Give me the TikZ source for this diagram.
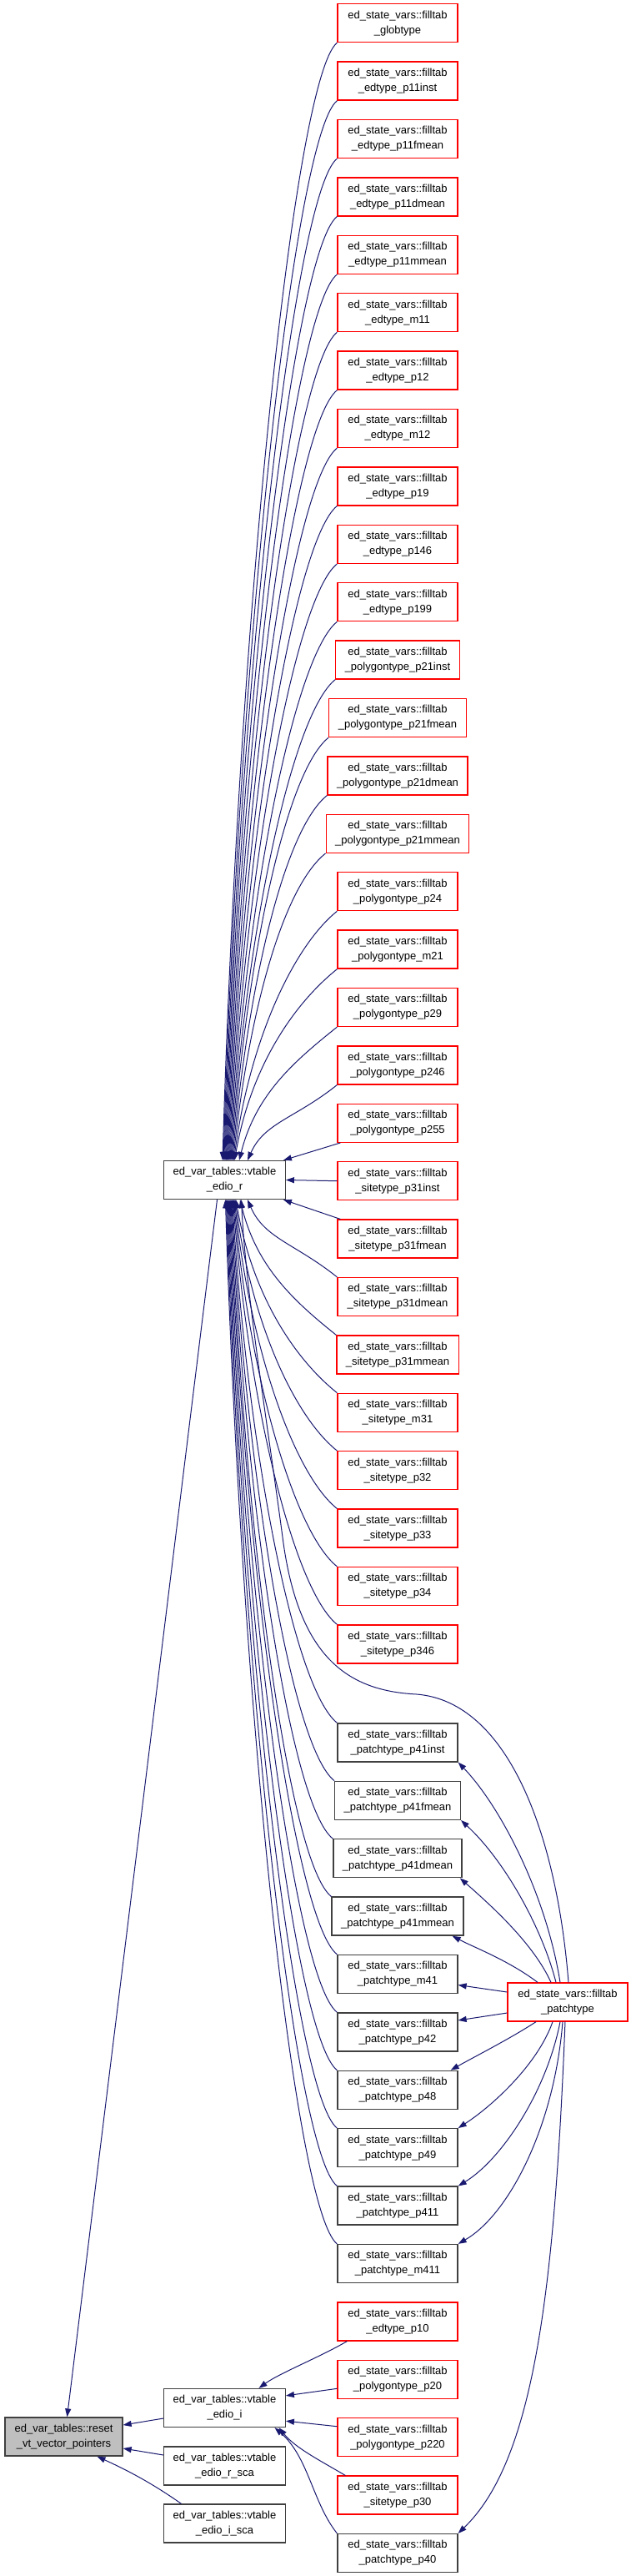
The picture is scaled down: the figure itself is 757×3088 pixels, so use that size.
\documentclass[tikz,border=0pt]{standalone}
\usepackage{fontspec}
\setmainfont{Liberation Sans}
\usetikzlibrary{arrows.meta}
\definecolor{edgeblue}{RGB}{25,25,112}
\definecolor{boxred}{RGB}{255,0,0}
\definecolor{boxgray}{RGB}{64,64,64}
\definecolor{resetfill}{RGB}{191,191,191}
\begin{document}
\begin{tikzpicture}[x=1pt,y=-1pt,
  box/.style={draw, line width=1.3pt, fill=white, minimum width=144pt, minimum height=46pt,
    inner xsep=11pt, inner ysep=3pt, align=center, font=\fontsize{13}{18}\selectfont},
  redbox/.style={box, draw=boxred},
  blkbox/.style={box, draw=boxgray},
  edge/.style={draw=edgeblue, line width=1pt, -{Triangle[length=10pt,width=7pt]}}]
\useasboundingbox (0,0) rectangle (757,3088);
% left column
\node[blkbox, fill=resetfill, minimum width=141pt] (reset) at (76.5,2921) {ed\_var\_tables::reset\\\_vt\_vector\_pointers};
\node[blkbox] (edior) at (269.5,1414.5) {ed\_var\_tables::vtable\\\_edio\_r};
\node[blkbox] (ei) at (269.5,2886.5) {ed\_var\_tables::vtable\\\_edio\_i};
\node[blkbox] (ers) at (269.5,2956) {ed\_var\_tables::vtable\\\_edio\_r\_sca};
\node[blkbox] (eis) at (269.5,3025) {ed\_var\_tables::vtable\\\_edio\_i\_sca};
\node[redbox] (pt) at (681,2400) {ed\_state\_vars::filltab\\\_patchtype};
% right column
\foreach \i/\lab/\sty in {
 0/{\_globtype}/redbox,
 1/{\_edtype\_p11inst}/redbox,
 2/{\_edtype\_p11fmean}/redbox,
 3/{\_edtype\_p11dmean}/redbox,
 4/{\_edtype\_p11mmean}/redbox,
 5/{\_edtype\_m11}/redbox,
 6/{\_edtype\_p12}/redbox,
 7/{\_edtype\_m12}/redbox,
 8/{\_edtype\_p19}/redbox,
 9/{\_edtype\_p146}/redbox,
 10/{\_edtype\_p199}/redbox,
 11/{\_polygontype\_p21inst}/redbox,
 12/{\_polygontype\_p21fmean}/redbox,
 13/{\_polygontype\_p21dmean}/redbox,
 14/{\_polygontype\_p21mmean}/redbox,
 15/{\_polygontype\_p24}/redbox,
 16/{\_polygontype\_m21}/redbox,
 17/{\_polygontype\_p29}/redbox,
 18/{\_polygontype\_p246}/redbox,
 19/{\_polygontype\_p255}/redbox,
 20/{\_sitetype\_p31inst}/redbox,
 21/{\_sitetype\_p31fmean}/redbox,
 22/{\_sitetype\_p31dmean}/redbox,
 23/{\_sitetype\_p31mmean}/redbox,
 24/{\_sitetype\_m31}/redbox,
 25/{\_sitetype\_p32}/redbox,
 26/{\_sitetype\_p33}/redbox,
 27/{\_sitetype\_p34}/redbox,
 28/{\_sitetype\_p346}/redbox,
 29/{\_patchtype\_p41inst}/blkbox,
 30/{\_patchtype\_p41fmean}/blkbox,
 31/{\_patchtype\_p41dmean}/blkbox,
 32/{\_patchtype\_p41mmean}/blkbox,
 33/{\_patchtype\_m41}/blkbox,
 34/{\_patchtype\_p42}/blkbox,
 35/{\_patchtype\_p48}/blkbox,
 36/{\_patchtype\_p49}/blkbox,
 37/{\_patchtype\_p411}/blkbox,
 38/{\_patchtype\_m411}/blkbox,
 39/{\_edtype\_p10}/redbox,
 40/{\_polygontype\_p20}/redbox,
 41/{\_polygontype\_p220}/redbox,
 42/{\_sitetype\_p30}/redbox,
 43/{\_patchtype\_p40}/blkbox}{
  \pgfmathsetmacro\yc{4.7+69.4*\i+23+(\i>28)*48.6}
  \node[\sty] (n\i) at (477,\yc) {ed\_state\_vars::filltab\\\lab};
}
% edges into edio_r from above
\foreach \i in {0,...,18}{
  \pgfmathsetmacro\sy{4.7+69.4*\i+46}
  \pgfmathsetmacro\xe{\i<17 ? 267+0.9*\i : (\i==17 ? 287 : 297)}
  \pgfmathsetmacro\dx{\xe-269.5}
  \pgfmathsetmacro\ym{(\sy+1391.5)/2}
  \draw[edge] (n\i.south west) .. controls +(-50,40) and (\xe+20,\ym) .. ([xshift=\dx pt]edior.north);
}
\draw[edge] ([xshift=4pt]n19.south west) -- ([xshift=-3pt]edior.north east);
\draw[edge] (n20.west) -- (edior.east);
\draw[edge] ([xshift=4pt]n21.north west) -- ([xshift=-3pt]edior.south east);
% edges into edio_r from below
\foreach \i in {22,...,38}{
  \pgfmathsetmacro\sy{4.7+69.4*\i+(\i>28)*48.6}
  \pgfmathsetmacro\xe{\i==22 ? 297 : (\i==23 ? 288 : 283-0.9*(\i-24))}
  \pgfmathsetmacro\dx{\xe-269.5}
  \pgfmathsetmacro\ym{(\sy+1437.5)/2}
  \draw[edge] (n\i.north west) .. controls +(-50,-40) and (\xe+20,\ym) .. ([xshift=\dx pt]edior.south);
}
% patchtype -> edio_r
\draw[edge] ([xshift=1pt]pt.north) .. controls (668,2200) and (610,2040) .. (500,2031)
  .. controls (420,2027) and (360,1990) .. (340,1850)
  .. controls (320,1700) and (295,1550) .. ([xshift=20pt]edior.south);
% patchtype -> patch boxes
\draw[edge] ([xshift=-9pt]pt.north) .. controls (655,2270) and (600,2165) .. (n29.south east);
\draw[edge] ([xshift=-14pt]pt.north) .. controls (650,2310) and (605,2230) .. (n30.south east);
\draw[edge] ([xshift=-20pt]pt.north) .. controls (640,2330) and (590,2285) .. ([xshift=-3pt]n31.south east);
\draw[edge] ([xshift=-36pt]pt.north) .. controls (610,2350) and (570,2335) .. ([xshift=-14pt]n32.south east);
\draw[edge] ([yshift=12pt]pt.west) -- ([yshift=-13pt]n33.east);
\draw[edge] ([yshift=-13pt]pt.west) -- ([yshift=14pt]n34.east);
\draw[edge] ([xshift=-38pt]pt.south) .. controls (610,2445) and (570,2465) .. ([xshift=-9pt]n35.north east);
\draw[edge] ([xshift=-18pt]pt.south) .. controls (645,2475) and (590,2525) .. (n36.north east);
\draw[edge] ([xshift=-9pt]pt.south) .. controls (655,2510) and (600,2590) .. (n37.north east);
\draw[edge] ([xshift=-6pt]pt.south) .. controls (665,2550) and (610,2655) .. (n38.north east);
\draw[edge] ([xshift=-3pt]pt.south) .. controls (665,2750) and (640,2950) .. (n43.north east);
% edges into edio_i
\draw[edge] ([xshift=12pt]n39.south west) .. controls (385,2825) and (335,2845) .. ([xshift=41pt]ei.north);
\draw[edge] ([yshift=-11pt]n40.west) -- ([yshift=-9pt]ei.north east);
\draw[edge] ([yshift=13pt]n41.west) -- ([yshift=8pt]ei.south east);
\draw[edge] ([xshift=10pt]n42.north west) .. controls (385,2950) and (355,2935) .. ([xshift=65pt]ei.south);
\draw[edge] (n43.north west) .. controls (375,3000) and (370,2945) .. ([xshift=60pt]ei.south);
% edges into reset
\draw[edge] ([xshift=-9pt]edior.south) -- ([xshift=4pt]reset.north);
\draw[edge] ([yshift=-12.5pt]ei.west) -- ([yshift=14pt]reset.east);
\draw[edge] ([yshift=13pt]ers.west) -- ([yshift=-14pt]reset.east);
\draw[edge] ([xshift=-52pt]eis.north) .. controls (180,2975) and (150,2960) .. ([xshift=40pt]reset.south);
\end{tikzpicture}
\end{document}
